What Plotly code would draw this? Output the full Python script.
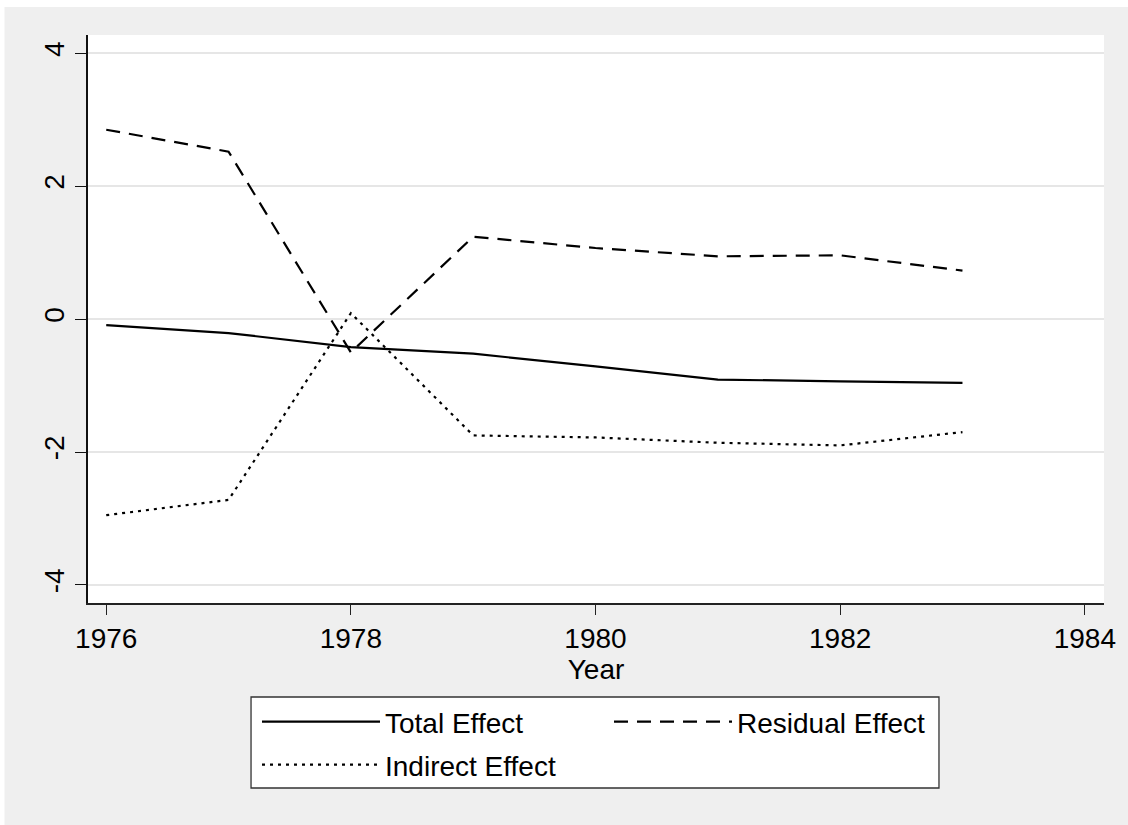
import plotly.graph_objects as go

years = [1976, 1977, 1978, 1979, 1980, 1981, 1982, 1983]
total_effect = [-0.09, -0.21, -0.42, -0.52, -0.71, -0.91, -0.935, -0.96]
residual_effect = [2.85, 2.52, -0.50, 1.24, 1.07, 0.945, 0.96, 0.73]
indirect_effect = [-2.95, -2.72, 0.09, -1.75, -1.78, -1.86, -1.90, -1.70]

x_ticks = [1976, 1978, 1980, 1982, 1984]
y_ticks = [-4, -2, 0, 2, 4]

FONT = "Liberation Sans, Arial, sans-serif"
FS = 28

fig = go.Figure()
fig.add_trace(go.Scatter(x=years, y=total_effect, mode="lines", name="Total Effect",
                         line=dict(color="black", width=2.2), legend="legend"))
fig.add_trace(go.Scatter(x=years, y=residual_effect, mode="lines", name="Residual Effect",
                         line=dict(color="black", width=2.2, dash="14px,9px"), legend="legend"))
fig.add_trace(go.Scatter(x=years, y=indirect_effect, mode="lines", name="Indirect Effect",
                         line=dict(color="black", width=2.2, dash="3px,5px"), legend="legend2"))

# plot area spans screen px x 88..1110, y 35..603
def px_x(p):
    return (p - 88) / 1022.0

def px_y(p):
    return (603 - p) / 568.0

shapes = [
    # thin white frame at top/left of the gray graph region
    dict(type="rect", xref="paper", yref="paper", x0=px_x(-5), x1=px_x(4), y0=px_y(830), y1=px_y(-5),
         fillcolor="white", line=dict(width=0), layer="below"),
    dict(type="rect", xref="paper", yref="paper", x0=px_x(-5), x1=px_x(1135), y0=px_y(7), y1=px_y(-5),
         fillcolor="white", line=dict(width=0), layer="below"),
    # legend frame
    dict(type="rect", xref="paper", yref="paper", x0=px_x(252), x1=px_x(944), y0=px_y(788), y1=px_y(697),
         fillcolor="white", line=dict(color="#333333", width=1.3), layer="below"),
]

fig.update_layout(
    width=1128, height=825,
    margin=dict(l=88, r=18, t=35, b=222),
    paper_bgcolor="#efefef",
    plot_bgcolor="white",
    font=dict(family=FONT, size=FS, color="black"),
    shapes=shapes,
    showlegend=True,
    legend=dict(orientation="h", x=px_x(258), xanchor="left", y=px_y(722), yanchor="middle",
                itemwidth=118, entrywidth=219, bgcolor="rgba(0,0,0,0)", borderwidth=0,
                font=dict(family=FONT, size=FS, color="black"), traceorder="normal"),
    legend2=dict(orientation="h", x=px_x(258), xanchor="left", y=px_y(765), yanchor="middle",
                 itemwidth=118, bgcolor="rgba(0,0,0,0)", borderwidth=0,
                 font=dict(family=FONT, size=FS, color="black")),
    xaxis=dict(range=[1975.851, 1984.157], tickmode="array", tickvals=x_ticks,
               ticktext=[str(v) for v in x_ticks], showgrid=False, zeroline=False,
               showline=True, linecolor="#222222", linewidth=1.5,
               ticks="outside", ticklen=10, tickwidth=1.3, tickcolor="#222222",
               tickfont=dict(family=FONT, size=FS, color="black"),
               title=dict(text="Year", standoff=0, font=dict(family=FONT, size=FS, color="black"))),
    yaxis=dict(range=[-4.271, 4.275], tickmode="array", tickvals=y_ticks,
               ticktext=[str(v) for v in y_ticks], showgrid=True, gridcolor="#e6e6e6", gridwidth=2,
               zeroline=False, showline=True, linecolor="#111111", linewidth=1.5,
               ticks="outside", ticklen=11, tickwidth=1.3, tickcolor="#111111", tickangle=-90,
               tickfont=dict(family=FONT, size=FS, color="black")),
)

fig.write_html("out.html", config={"displayModeBar": False},
               post_script="document.body.style.margin='0px';")
